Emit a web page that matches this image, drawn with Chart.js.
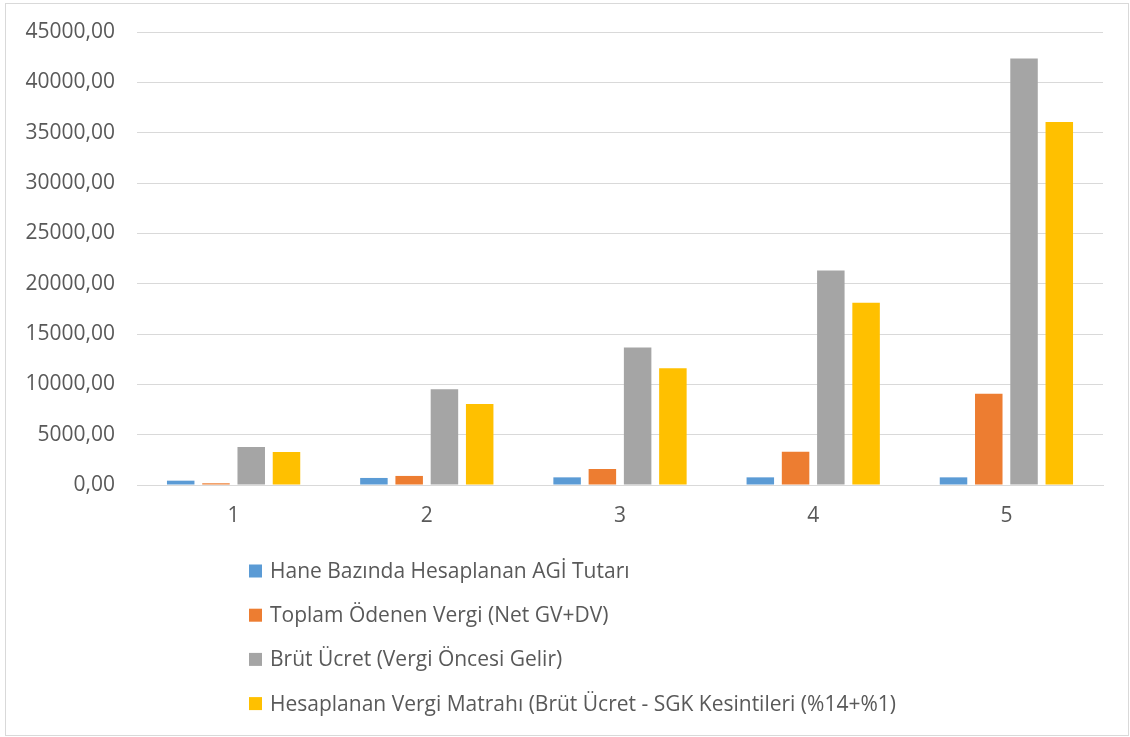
<!DOCTYPE html>
<html>
<head>
<meta charset="utf-8">
<script src="https://cdn.jsdelivr.net/npm/chart.js@4/dist/chart.umd.min.js"></script>
<style>
  html, body { margin: 0; padding: 0; background: #ffffff; }
  #frame {
    position: absolute; left: 5px; top: 3px;
    width: 1122px; height: 731px;
    border: 1px solid #d9d9d9;
  }
  #frame canvas { display: block; }
</style>
</head>
<body>
<div id="frame"><canvas id="c" width="1122" height="731"></canvas></div>
<script>
// Income groups
const categories = ['1', '2', '3', '4', '5'];

// Series values per group
const agiAmount   = [430, 700, 760, 760, 760];
const totalTax    = [170, 900, 1590, 3300, 9070];
const grossWage   = [3770, 9500, 13650, 21300, 42370];
const taxBase     = [3280, 8050, 11600, 18100, 36050];

const seriesLabels = [
  'Hane Bazında Hesaplanan AGİ Tutarı',
  'Toplam Ödenen Vergi (Net GV+DV)',
  'Brüt Ücret (Vergi Öncesi Gelir)',
  'Hesaplanan Vergi Matrahı (Brüt Ücret - SGK Kesintileri (%14+%1)'
];
const seriesColors = ['#5B9BD5', '#ED7D31', '#A5A5A5', '#FFC000'];

const FONT = '"Open Sans", "Noto Sans", sans-serif';
const TEXT = '#595959';
const GRID = '#d9d9d9';

// Vertical legend drawn beneath the axis labels
const listLegend = {
  id: 'listLegend',
  afterDraw(chart) {
    const ctx = chart.ctx;
    const top = chart.chartArea.bottom + 86;
    ctx.save();
    ctx.font = '21px ' + FONT;
    ctx.textBaseline = 'middle';
    ctx.textAlign = 'left';
    chart.data.datasets.forEach((ds, i) => {
      const y = top + i * 44.2;
      ctx.fillStyle = ds.backgroundColor;
      ctx.fillRect(243, y - 6.5, 13, 13);
      ctx.fillStyle = TEXT;
      ctx.fillText(ds.label, 264, y + 1);
    });
    ctx.restore();
  }
};

new Chart(document.getElementById('c'), {
  type: 'bar',
  data: {
    labels: categories,
    datasets: [agiAmount, totalTax, grossWage, taxBase].map((d, i) => ({
      label: seriesLabels[i],
      data: d,
      backgroundColor: seriesColors[i],
      categoryPercentage: 0.73,
      barPercentage: 0.78
    }))
  },
  options: {
    responsive: false,
    animation: false,
    devicePixelRatio: 1,
    layout: { padding: { top: 28, right: 25, bottom: 200, left: 0 } },
    plugins: {
      legend: { display: false },
      tooltip: { enabled: false }
    },
    scales: {
      x: {
        grid: { display: false },
        border: { color: GRID, width: 1 },
        ticks: { color: TEXT, font: { family: FONT, size: 21 }, padding: 10 },
        afterFit(scale) { scale.height = 50; }
      },
      y: {
        min: 0,
        max: 45000,
        grid: { color: GRID, lineWidth: 1, drawTicks: false },
        border: { display: false },
        ticks: {
          stepSize: 5000,
          color: TEXT,
          font: { family: FONT, size: 21 },
          padding: 22,
          callback: v => v.toFixed(2).replace('.', ',')
        },
        afterFit(scale) {
          scale.width = 131;
          scale.paddingTop = 0;
          scale.paddingBottom = 0;
        }
      }
    }
  },
  plugins: [listLegend]
});
</script>
</body>
</html>
